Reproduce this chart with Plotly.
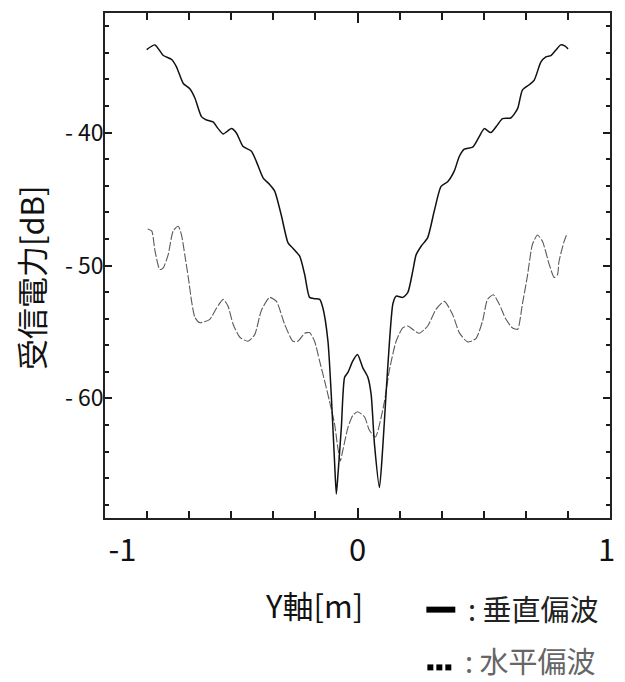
import plotly.graph_objects as go

# ---- data ----
vert_x = [-0.835, -0.802, -0.769, -0.736, -0.717, -0.69, -0.664, -0.644, -0.618, -0.598, -0.572, -0.552,
          -0.532, -0.499, -0.479, -0.453, -0.42, -0.40, -0.374, -0.348, -0.328, -0.302, -0.275, -0.256,
          -0.229, -0.209, -0.19, -0.17, -0.15, -0.137, -0.117, -0.104, -0.091, -0.084, -0.078, -0.064,
          -0.051, -0.038, -0.019, 0.0, 0.021, 0.041, 0.054, 0.067, 0.087, 0.10, 0.113, 0.126, 0.14,
          0.153, 0.179, 0.199, 0.219, 0.232, 0.252, 0.278, 0.304, 0.331, 0.357, 0.383, 0.403, 0.423,
          0.456, 0.482, 0.502, 0.528, 0.555, 0.574, 0.607, 0.634, 0.653, 0.68, 0.70, 0.726, 0.746,
          0.766, 0.785, 0.805, 0.822, 0.834]
vert_y = [-33.75, -33.4, -34.2, -34.5, -35.05, -36.3, -36.7, -37.4, -38.8, -39.05, -39.2, -39.7,
          -40.1, -39.7, -40.05, -41.05, -41.4, -42.2, -43.4, -43.9, -44.4, -46.2, -48.3, -48.7,
          -49.3, -50.7, -52.4, -52.5, -52.55, -53.2, -55.7, -59.7, -64.7, -67.2, -65.9, -62.2,
          -58.4, -58.05, -57.2, -56.7, -57.7, -58.4, -59.7, -63.4, -66.7, -63.7, -59.7, -55.9, -52.9,
          -52.3, -52.4, -52.05, -50.4, -49.2, -48.55, -47.9, -45.9, -44.05, -43.7, -42.9, -41.8, -41.25,
          -41.1, -40.3, -39.7, -40.0, -39.4, -38.95, -38.9, -38.2, -36.8, -36.4, -36.05, -34.7, -34.3,
          -34.2, -33.8, -33.4, -33.5, -33.7]

horiz_x = [-0.831, -0.815, -0.802, -0.783, -0.77, -0.75, -0.73, -0.71, -0.697, -0.684, -0.67, -0.657,
           -0.644, -0.625, -0.585, -0.558, -0.532, -0.513, -0.493, -0.466, -0.434, -0.407, -0.381,
           -0.348, -0.321, -0.289, -0.256, -0.236, -0.209, -0.19, -0.17, -0.15, -0.13, -0.111, -0.091,
           -0.078, -0.068, -0.058, -0.038, -0.019, 0.0, 0.028, 0.047, 0.071, 0.094, 0.107, 0.126,
           0.153, 0.179, 0.199, 0.225, 0.245, 0.278, 0.311, 0.344, 0.377, 0.403, 0.436, 0.469, 0.495,
           0.515, 0.538, 0.561, 0.588, 0.614, 0.634, 0.653, 0.672, 0.693, 0.713, 0.733, 0.759, 0.779,
           0.792, 0.798, 0.818, 0.831]
horiz_y = [-47.25, -47.4, -48.9, -50.3, -50.2, -49.2, -47.4, -47.05, -47.7, -49.2, -50.9, -52.7,
           -53.9, -54.3, -54.05, -53.2, -52.55, -53.05, -54.4, -55.4, -55.7, -55.2, -53.4,
           -52.4, -52.7, -54.4, -55.7, -55.7, -55.1, -55.05, -55.7, -57.2, -58.7, -60.2, -61.9,
           -63.7, -64.7, -63.9, -62.2, -61.3, -61.0, -61.4, -62.4, -62.9, -61.4, -60.2, -57.9,
           -55.7, -54.7, -54.55, -54.9, -55.1, -54.55, -53.3, -52.7, -53.7, -55.05, -55.75, -55.5, -54.2,
           -52.55, -52.2, -52.9, -54.05, -54.7, -54.8, -52.9, -50.9, -48.4, -47.7, -48.2, -49.9, -50.9,
           -50.7, -49.7, -48.2, -47.55]

x_tickvals = [-1, 0, 1]
x_ticktext = ["\u00a0\u00a0\u00a0\u00a0\u00a0-1", "0", "1\u00a0"]
x_minor_vals = [-5/6, -4/6, -3/6, -2/6, -1/6, 1/6, 2/6, 3/6, 4/6, 5/6]
y_tickvals = [-40, -50, -60]
y_ticktext = ["- 40", "- 50", "- 60"]

FONT = "Noto Sans CJK JP"
TICKC = "#1a1a1a"

# figure is placed 8px from the page corner (default body margin)
OFF = 8
W, H = 625 - OFF, 682 - OFF
L, T = 105 - OFF, 11 - OFF
PR, PB = 611 - OFF, 518 - OFF
PW, PH = PR - L, PB - T


def px(sx):
    return (sx - OFF - L) / PW


def py(sy):
    return (PB - (sy - OFF)) / PH


fig = go.Figure()
fig.add_trace(go.Scatter(x=horiz_x, y=horiz_y, mode="lines", name="水平偏波",
                         line=dict(color="#5a5a5a", width=1.1, dash="9px,2px", shape="spline", smoothing=0.6)))
fig.add_trace(go.Scatter(x=vert_x, y=vert_y, mode="lines", name="垂直偏波",
                         line=dict(color="#111111", width=1.5, shape="spline", smoothing=0.6)))

fig.update_layout(
    width=W, height=H,
    margin=dict(l=L, r=W - PR, t=T, b=H - PB, pad=0),
    paper_bgcolor="white", plot_bgcolor="white",
    showlegend=False,
    font=dict(family=FONT, color="#222222"),
    xaxis=dict(range=[-1, 1], tickmode="array", tickvals=x_tickvals, ticktext=x_ticktext,
               ticks="inside", ticklen=10, tickwidth=1.6, tickcolor=TICKC,
               showline=True, linecolor="#222", linewidth=1.5, mirror="allticks",
               showgrid=False, zeroline=False, ticklabelstandoff=4, ticklabeloverflow="allow",
               tickfont=dict(size=31, family=FONT, color="#111"),
               minor=dict(tickmode="array", tickvals=x_minor_vals,
                          ticks="inside", ticklen=7, tickwidth=1.6, tickcolor=TICKC, showgrid=False)),
    yaxis=dict(range=[-69, -31], tickmode="array", tickvals=y_tickvals, ticktext=y_ticktext,
               ticks="inside", ticklen=7, tickwidth=1.6, tickcolor=TICKC,
               showline=True, linecolor="#222", linewidth=1.5, mirror="allticks",
               showgrid=False, zeroline=False, ticklabelstandoff=-5,
               tickfont=dict(size=23, family=FONT, color="#111"),
               minor=dict(dtick=2, tick0=-30, ticks="inside", ticklen=4, tickwidth=1.6, tickcolor=TICKC, showgrid=False)),
)

# axis titles
fig.add_annotation(x=px(314), y=py(605), xref="paper", yref="paper", showarrow=False,
                   text="Y軸[m]", font=dict(size=31, family=FONT, color="#111"),
                   xanchor="center", yanchor="middle")
fig.add_annotation(x=px(31), y=py(277), xref="paper", yref="paper", showarrow=False,
                   text="受信電力[dB]", textangle=-90, font=dict(size=31, family=FONT, color="#111"),
                   xanchor="center", yanchor="middle")

# legend-like key
fig.add_shape(type="rect", xref="paper", yref="paper", x0=px(427), x1=px(456), y0=py(613), y1=py(607),
              fillcolor="#000", line=dict(width=0))
for sx in (428, 437, 446):
    fig.add_shape(type="rect", xref="paper", yref="paper", x0=px(sx), x1=px(sx + 6), y0=py(671), y1=py(665),
                  fillcolor="#000", line=dict(width=0))
fig.add_annotation(x=px(467), y=py(608), xref="paper", yref="paper", showarrow=False,
                   text=": 垂直偏波", font=dict(size=29, family=FONT, color="#222"),
                   xanchor="left", yanchor="middle")
fig.add_annotation(x=px(464), y=py(661), xref="paper", yref="paper", showarrow=False,
                   text=": 水平偏波", font=dict(size=29, family=FONT, color="#666"),
                   xanchor="left", yanchor="middle")

fig.write_html("out.html")
